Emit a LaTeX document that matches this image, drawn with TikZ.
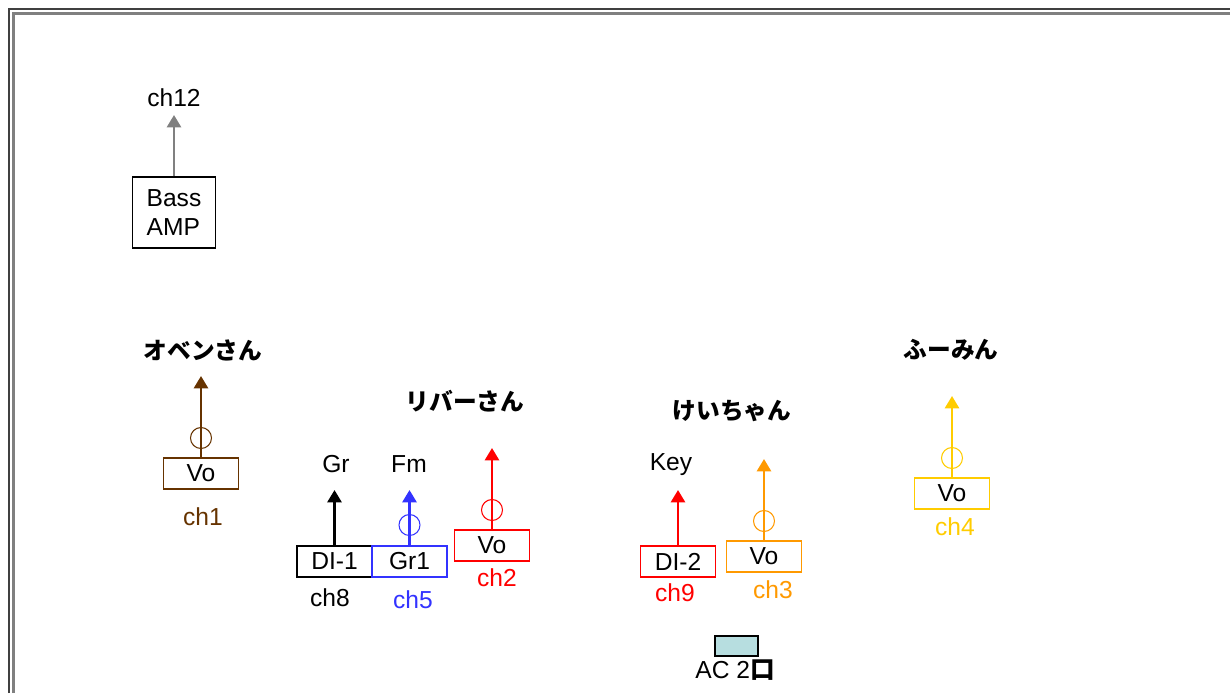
\documentclass[tikz,border=0pt]{standalone}
\usepackage{fontspec}
\setmainfont{Liberation Sans}
\newfontfamily\jp{Noto Sans CJK JP}
\usetikzlibrary{arrows.meta}
\definecolor{brn}{HTML}{663300}
\definecolor{blu}{HTML}{3333FF}
\definecolor{org}{HTML}{FF9900}
\definecolor{ylw}{HTML}{FFCC00}
\definecolor{acfill}{HTML}{B7DEE0}
\newcommand{\lblfont}{\fontsize{14}{16.5}\selectfont}
\tikzstyle{box}=[rectangle, draw, line width=0.6pt, minimum width=1.5cm, minimum height=0.62cm, inner sep=0pt, text=black, font=\lblfont]
\tikzstyle{mic}=[circle, draw, line width=0.6pt, minimum size=0.42cm, inner sep=0pt]
\tikzstyle{sig}=[-{Triangle[width=8pt, length=7pt]}, line width=1.4pt]
\tikzstyle{lbl}=[inner sep=0pt, font=\lblfont]
\tikzstyle{who}=[inner sep=0pt, font=\jp\bfseries\fontsize{13.5}{16}\selectfont]

\begin{document}
\begin{tikzpicture}[x=0.02cm, y=-0.02cm]
	\useasboundingbox (0,0) rectangle (1230,693);
	% frame
	\draw[line width=0.6pt, black!75] (9,693) -- (9,9) -- (1230,9);
	\draw[line width=1.8pt, black!50] (13.5,693) -- (13.5,13.5) -- (1230,13.5);

	% bass amp
	\draw (174,212.5) node[box, minimum width=1.66cm, minimum height=1.42cm, align=left] (amp) {Bass\\AMP};
	\draw (174,98) node[lbl] (c12) {ch12};
	\coordinate (t12) at (174,115);
	\draw[sig, black!50] (amp.north) -- (amp.north |- t12);

	% obensan
	\draw (203,350) node[who] (oben) {オベンさん};
	\draw (201,473.5) node[box, draw=brn] (vo1) {Vo};
	\draw (201,438) node[mic, draw=brn] (m1) {};
	\coordinate (t1) at (201,376);
	\draw[sig, brn] (vo1.north) -- (vo1.north |- t1);
	\draw (203,517) node[lbl, text=brn] (c1) {ch1};

	% riba-san
	\draw (465,401) node[who] (riba) {リバーさん};
	\draw (336,464) node[lbl] (gr) {Gr};
	\draw (409,464) node[lbl] (fm) {Fm};
	\draw (334.5,561.5) node[box] (di1) {DI-1};
	\draw (409.5,561.5) node[box, draw=blu] (gr1) {Gr1};
	\coordinate (t8) at (334,490);
	\draw[sig] (di1.north) -- (di1.north |- t8);
	\draw (409.5,525) node[mic, draw=blu] (m5) {};
	\coordinate (t5) at (409,490);
	\draw[sig, blu] (gr1.north) -- (gr1.north |- t5);
	\draw (330,598) node[lbl] (c8) {ch8};
	\draw (413,600) node[lbl, text=blu] (c5) {ch5};
	\draw (492,545.5) node[box, draw=red] (vo2) {Vo};
	\draw (492,510) node[mic, draw=red] (m2) {};
	\coordinate (t2) at (492,448);
	\draw[sig, red] (vo2.north) -- (vo2.north |- t2);
	\draw (497,578) node[lbl, text=red] (c2) {ch2};

	% keichan
	\draw (732,411) node[who] (kei) {けいちゃん};
	\draw (671,465) node[lbl] (key) {Key};
	\draw (678,561.5) node[box, draw=red] (di2) {DI-2};
	\coordinate (t9) at (678,490);
	\draw[sig, red] (di2.north) -- (di2.north |- t9);
	\draw (675,593) node[lbl, text=red] (c9) {ch9};
	\draw (764,556.5) node[box, draw=org] (vo3) {Vo};
	\draw (764,521) node[mic, draw=org] (m3) {};
	\coordinate (t3) at (764,459);
	\draw[sig, org] (vo3.north) -- (vo3.north |- t3);
	\draw (773,590) node[lbl, text=org] (c3) {ch3};

	% AC outlet
	\draw (736.5,646) node[rectangle, draw, line width=1.3pt, fill=acfill, minimum width=0.86cm, minimum height=0.4cm] (ac) {};
	\draw (735,670) node[lbl] (acl) {AC 2{\jp\bfseries 口}};

	% fumin
	\draw (951,350) node[who] (fumi) {ふーみん};
	\draw (952,493.5) node[box, draw=ylw] (vo4) {Vo};
	\draw (952,458) node[mic, draw=ylw] (m4) {};
	\coordinate (t4) at (952,396);
	\draw[sig, ylw] (vo4.north) -- (vo4.north |- t4);
	\draw (955,527) node[lbl, text=ylw] (c4) {ch4};
\end{tikzpicture}
\end{document}
